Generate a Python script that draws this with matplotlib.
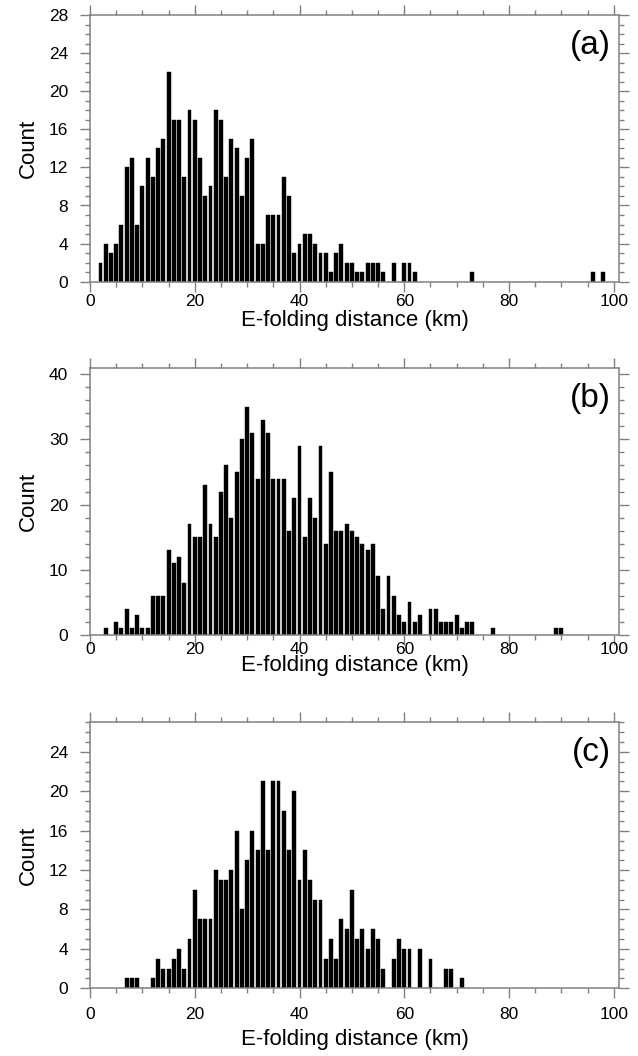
import matplotlib
matplotlib.use("Agg")
import matplotlib.pyplot as plt
from matplotlib.ticker import MultipleLocator

plt.rcParams['font.family'] = ['Liberation Sans', 'DejaVu Sans']

# ---- data: bin centres (km) and counts ----
bins_a = list(range(2, 63)) + [73, 96, 98]
counts_a = [2, 4, 3, 4, 6, 12, 13, 6, 10, 13, 11, 14, 15, 22, 17, 17, 11, 18, 17, 13,
            9, 10, 18, 17, 11, 15, 14, 9, 13, 15, 4, 4, 7, 7, 7, 11, 9, 3, 4, 5,
            5, 4, 3, 3, 1, 3, 4, 2, 2, 1, 1, 2, 2, 2, 1, 0, 2, 0, 2, 2,
            1, 1, 1, 1]

bins_b = list(range(3, 74)) + [77, 89, 90]
counts_b = [1, 0, 2, 1, 4, 1, 3, 1, 1, 6, 6, 6, 13, 11, 12, 8, 17, 15, 15, 23,
            17, 15, 22, 26, 18, 25, 30, 35, 31, 24, 33, 31, 24, 24, 24, 16, 21, 29, 15, 21,
            18, 29, 14, 25, 16, 16, 17, 16, 15, 14, 13, 14, 9, 4, 9, 6, 3, 2, 5, 2,
            3, 0, 4, 4, 2, 2, 2, 3, 1, 2, 2, 1, 1, 1]

bins_c = list(range(7, 72))
counts_c = [1, 1, 1, 0, 0, 1, 3, 2, 2, 3, 4, 2, 5, 10, 7, 7, 7, 12, 11, 11,
            12, 16, 8, 13, 16, 14, 21, 14, 21, 21, 18, 14, 20, 11, 14, 11, 9, 9, 3, 5,
            3, 7, 6, 10, 5, 6, 4, 6, 5, 2, 0, 3, 5, 4, 4, 0, 4, 0, 3, 0,
            0, 2, 2, 0, 1]

panel_labels = ["(a)", "(b)", "(c)"]
y_max = [28, 41, 27]
y_major = [4, 10, 4]
y_minor = [1, 2, 1]
x_ticks = [0, 20, 40, 60, 80, 100]
xlabel = "E-folding distance (km)"
ylabel = "Count"

W, H = 638, 1056
fig = plt.figure(figsize=(W / 100, H / 100), dpi=100)

# axes rectangles in pixels: (left, top, right, bottom)
rects = [(90, 15, 619, 281.7), (90, 367.7, 619, 635), (90, 722.3, 619, 988.3)]
xlab_y = [321, 665, 1040]      # pixel centre of x label
xtick_pad = [2, -2.5, 6]

gray = "#808080"
data = [(bins_a, counts_a), (bins_b, counts_b), (bins_c, counts_c)]

for i, (bins, counts) in enumerate(data):
    l, t, r, b = rects[i]
    ax = fig.add_axes([l / W, 1 - b / H, (r - l) / W, (b - t) / H])
    ax.bar(bins, counts, width=0.74, color="black", edgecolor="black", linewidth=0.3)
    ax.set_xlim(0, 101)
    ax.set_ylim(0, y_max[i])
    ax.set_xticks(x_ticks)
    ax.xaxis.set_minor_locator(MultipleLocator(5))
    ax.yaxis.set_minor_locator(MultipleLocator(y_minor[i]))
    ax.set_yticks([v for v in range(0, y_max[i] + 1, y_major[i])])
    for s in ax.spines.values():
        s.set_color(gray)
        s.set_linewidth(1.1)
    ax.tick_params(which="both", direction="out", top=True, right=True,
                   colors=gray, labelcolor="black", width=1.0)
    ax.tick_params(which="major", length=7.2)
    ax.tick_params(which="minor", length=3.6)
    ax.tick_params(axis="x", which="major", labelsize=12.5, pad=xtick_pad[i])
    ax.tick_params(axis="y", which="major", labelsize=12.5, pad=8.5)
    ax.set_xlabel(xlabel, fontsize=16)
    ax.xaxis.set_label_coords(0.5, (b - xlab_y[i]) / (b - t))
    ax.xaxis.label.set_va("center")
    ax.set_ylabel(ylabel, fontsize=16)
    ax.yaxis.set_label_coords((28 - l) / (r - l), 0.5)
    ax.yaxis.label.set_va("center")
    ax.text(0.985, 0.885, panel_labels[i], transform=ax.transAxes,
            ha="right", va="center", fontsize=24)

fig.savefig("out.png", dpi=100)
